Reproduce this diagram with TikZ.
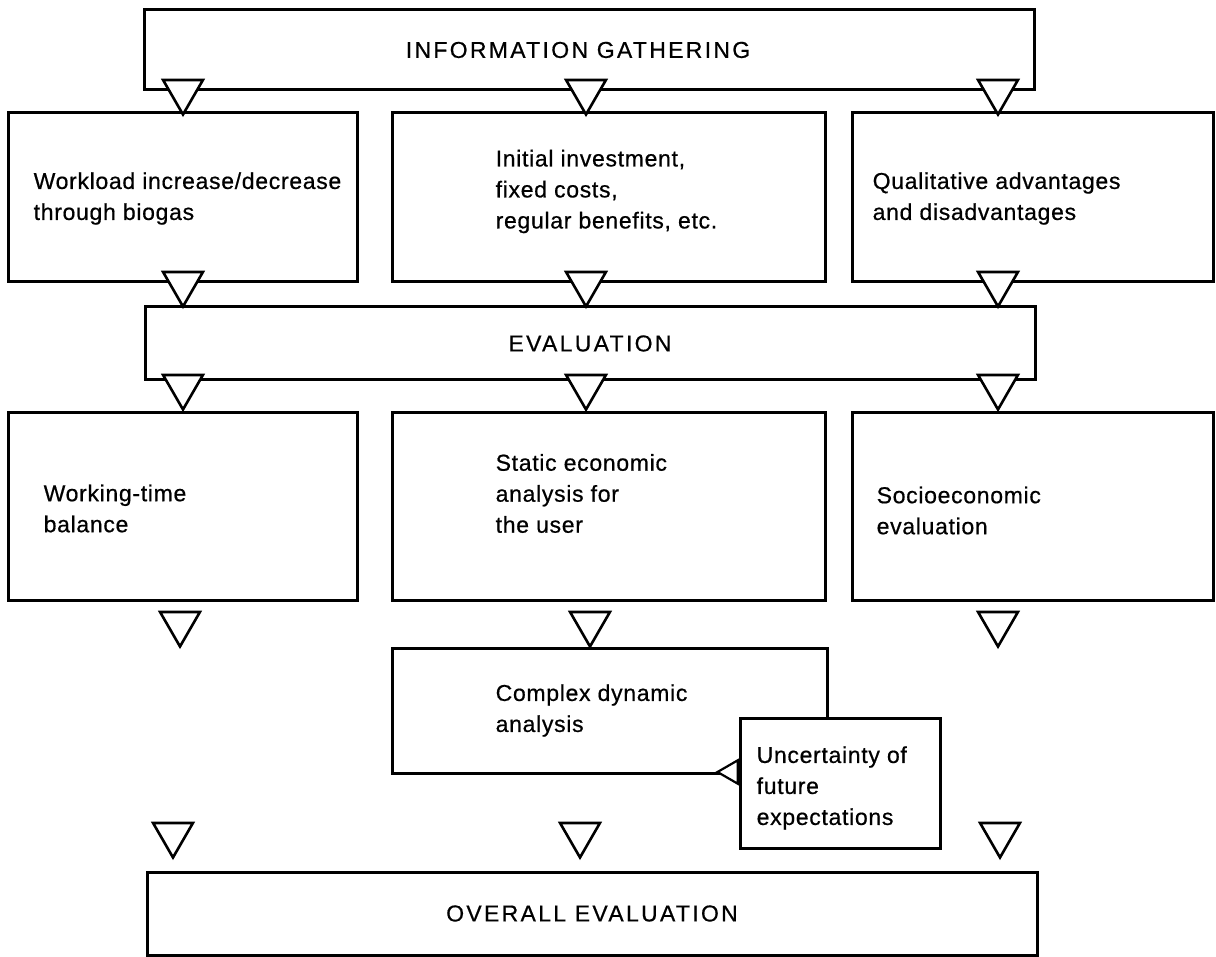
\documentclass[tikz,border=0pt]{standalone}
\usepackage{fontspec}
\setmainfont{Liberation Sans}[LetterSpace=3.0,FakeBold=0.6]
\newfontfamily\bannerfont{Liberation Sans}[LetterSpace=10.0,FakeBold=0.6]
\usetikzlibrary{positioning,shapes.geometric}
\tikzset{stagebox/.style={draw,line width=3pt,fill=white,inner sep=0pt},
  stagetext/.style={inner sep=0pt,align=left,font=\fontsize{23}{31}\selectfont},
  banner/.style={draw,line width=3pt,fill=white,inner sep=0pt,minimum width=890pt,font=\bannerfont\fontsize{23}{28}\selectfont},
  flowtri/.style={draw,line width=2.6pt,fill=white,regular polygon,regular polygon sides=3,shape border rotate=180,minimum size=46pt,inner sep=0pt}
}

\begin{document}
\begin{tikzpicture}[x=1pt,y=-1pt]
  \useasboundingbox (0,0) rectangle (1216,957);

  % Banners
    \node[banner, minimum height=80pt] (info) at (589,50) {INFORMATION GATHERING\hspace*{22pt}};
    \node[banner, minimum height=73pt] (eval) at (590,343.5) {EVALUATION};
    \node[banner, minimum height=83pt] (overall) at (592,913.5) {OVERALL EVALUATION};

    % Information
    \node[stagebox, minimum width=349pt, minimum height=169pt] (work) at (182.5,197.5) {};
    \node[stagebox, minimum width=433pt, minimum height=169pt] (invest) at (608.5,197.5) {};
    \node[stagebox, minimum width=361pt, minimum height=169pt] (qual) at (1032.5,197.5) {};
    \node[stagetext, right=27pt of work.west, yshift=-1pt] (worktxt) {Workload increase/decrease\\ through biogas};
    \node[stagetext, right=105pt of invest.west, yshift=6pt] (investtxt) {Initial investment,\\ fixed costs,\\ regular benefits, etc.};
    \node[stagetext, right=22pt of qual.west, yshift=-1pt] (qualtxt) {Qualitative advantages\\ and disadvantages};

    % Evaluation
    \node[stagebox, minimum width=349pt, minimum height=187pt] (wtime) at (182.5,506.5) {};
    \node[stagebox, minimum width=433pt, minimum height=187pt] (static) at (608.5,506.5) {};
    \node[stagebox, minimum width=361pt, minimum height=187pt] (socio) at (1032.5,506.5) {};
    \node[stagetext, right=37pt of wtime.west, yshift=-2pt] (wtimetxt) {Working-time\\ balance};
    \node[stagetext, right=105pt of static.west, yshift=13pt] (statictxt) {Static economic\\ analysis for\\ the user};
    \node[stagetext, right=26pt of socio.west, yshift=-4pt] (sociotxt) {Socioeconomic\\ evaluation};

    % Dynamic analysis
    \node[stagebox, minimum width=435pt, minimum height=125pt] (complex) at (609.5,710.5) {};
    \node[stagetext, right=105pt of complex.west] (complextxt) {Complex dynamic\\ analysis};
    \node[stagebox, minimum width=200pt, minimum height=130pt] (uncert) at (840,783) {};
    \node[stagetext, right=18pt of uncert.west, yshift=-5pt] (uncerttxt) {Uncertainty of\\ future\\ expectations};

    % Flow markers
    \node[flowtri] (i1) at (183,91.5) {};
    \node[flowtri] (i2) at (586,91.5) {};
    \node[flowtri] (i3) at (998,91.5) {};
    \node[flowtri] (e1) at (183,283.5) {};
    \node[flowtri] (e2) at (586,283.5) {};
    \node[flowtri] (e3) at (998,283.5) {};
    \node[flowtri] (s1) at (183,386.5) {};
    \node[flowtri] (s2) at (586,386.5) {};
    \node[flowtri] (s3) at (998,386.5) {};
    \node[flowtri] (d1) at (180,623.5) {};
    \node[flowtri] (d2) at (590,623.5) {};
    \node[flowtri] (d3) at (998,623.5) {};
    \node[flowtri] (o1) at (173,834.5) {};
    \node[flowtri] (o2) at (580,834.5) {};
    \node[flowtri] (o3) at (1000,834.5) {};

    % Uncertainty into dynamic analysis
    \node[flowtri, minimum size=27pt, line width=2.2pt, shape border rotate=90] (u1) at (731,772) {};

\end{tikzpicture}
\end{document}
